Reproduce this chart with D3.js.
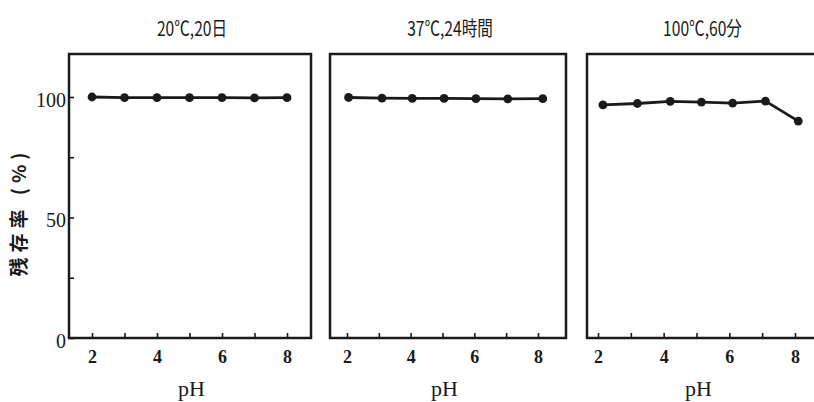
<!DOCTYPE html>
<html><head><meta charset="utf-8">
<script src="https://cdn.jsdelivr.net/npm/d3@7"></script>
<style>body{margin:0;background:#fff}svg{display:block}</style>
</head><body>
<svg id="c" width="814" height="402"></svg>
<script>
const titles = ["20℃,20日", "37℃,24時間", "100℃,60分"];
const pH1 = [2, 3, 4, 5, 6, 7, 8];
const val1 = [100, 99.7, 99.7, 99.7, 99.7, 99.6, 99.7];
const pH2 = [2.05, 3.1, 4.05, 5.05, 6.05, 7.05, 8.15];
const val2 = [99.8, 99.5, 99.4, 99.4, 99.3, 99.2, 99.3];
const pH3 = [2.15, 3.2, 4.2, 5.15, 6.1, 7.1, 8.1];
const val3 = [96.7, 97.3, 98.2, 97.9, 97.5, 98.3, 90.0];
const xTicks = [2, 3, 4, 5, 6, 7, 8];
const xTickLabels = [2, 4, 6, 8];
const yTicks = [0, 25, 50, 75, 100];
const yTickLabels = [0, 50, 100];
const yLabel = "残存率 (%)";
const xLabel = "pH";

const panels = [
  {title: titles[0], pH: pH1, val: val1, box: [69, 311], px: [92, 287], yAxis: true},
  {title: titles[1], pH: pH2, val: val2, box: [330, 566], px: [347, 538], yAxis: false},
  {title: titles[2], pH: pH3, val: val3, box: [587, 830], px: [598, 795], yAxis: false}
];
const plotTop = 54, plotBottom = 338;
const y = d3.scaleLinear().domain([0, 100]).range([plotBottom, 97]);
const svg = d3.select("#c");
const ink = "#1a1a1a";

panels.forEach(p => {
  const x = d3.scaleLinear().domain([2, 8]).range(p.px);
  const g = svg.append("g");
  g.append("rect").attr("x", p.box[0]).attr("y", plotTop)
    .attr("width", p.box[1] - p.box[0]).attr("height", plotBottom - plotTop)
    .attr("fill", "none").attr("stroke", ink).attr("stroke-width", 2.5);
  const xa = g.append("g").attr("transform", `translate(0,${plotBottom})`)
    .call(d3.axisBottom(x).tickValues(xTicks).tickSizeInner(-5).tickSizeOuter(0)
      .tickFormat(d => xTickLabels.includes(d) ? d : "").tickPadding(12));
  xa.select(".domain").remove();
  xa.selectAll(".tick line").attr("stroke", ink).attr("stroke-width", 1.6);
  xa.selectAll(".tick text").attr("fill", ink).attr("font-family", "'Liberation Serif', serif")
    .attr("font-weight", "bold").attr("font-size", 18).attr("dy", "0.71em");
  g.append("text").attr("x", (p.px[0] + p.px[1]) / 2 + 2).attr("y", 396)
    .attr("text-anchor", "middle").attr("font-family", "'Liberation Serif', serif")
    .attr("font-size", 22).attr("fill", ink).text(xLabel);
  const cx = (p.box[0] + Math.min(p.box[1], 814)) / 2 + 2;
  g.append("text").attr("x", cx).attr("y", 36)
    .attr("text-anchor", "middle").attr("font-family", "'Noto Sans CJK JP', sans-serif")
    .attr("font-size", 20).attr("fill", ink)
    .attr("transform", `translate(${cx * 0.22},0) scale(0.78,1)`)
    .text(p.title);
  if (p.yAxis) {
    const ya = g.append("g").attr("transform", `translate(${p.box[0]},0)`)
      .call(d3.axisLeft(y).tickValues(yTicks).tickSizeInner(-5).tickSizeOuter(0)
        .tickFormat(d => yTickLabels.includes(d) ? d : "").tickPadding(3));
    ya.select(".domain").remove();
    ya.selectAll(".tick line").attr("stroke", ink).attr("stroke-width", 1.6);
    ya.selectAll(".tick text").attr("fill", ink).attr("font-family", "'Liberation Serif', serif")
      .attr("font-size", 20).attr("dy", "0.45em");
  }
  const pts = p.pH.map((d, i) => [x(d), y(p.val[i])]);
  g.append("path").attr("d", d3.line()(pts)).attr("fill", "none")
    .attr("stroke", ink).attr("stroke-width", 2.8);
  g.selectAll("circle.pt").data(pts).join("circle").attr("class", "pt")
    .attr("cx", d => d[0]).attr("cy", d => d[1]).attr("r", 4.4).attr("fill", ink);
});

svg.append("text").attr("transform", "translate(26,212) rotate(-90)")
  .attr("text-anchor", "middle").attr("font-family", "'Noto Sans CJK JP', sans-serif")
  .attr("font-weight", "bold").attr("font-size", 19).attr("letter-spacing", 5).attr("fill", ink)
  .text(yLabel);
</script>
</body></html>
